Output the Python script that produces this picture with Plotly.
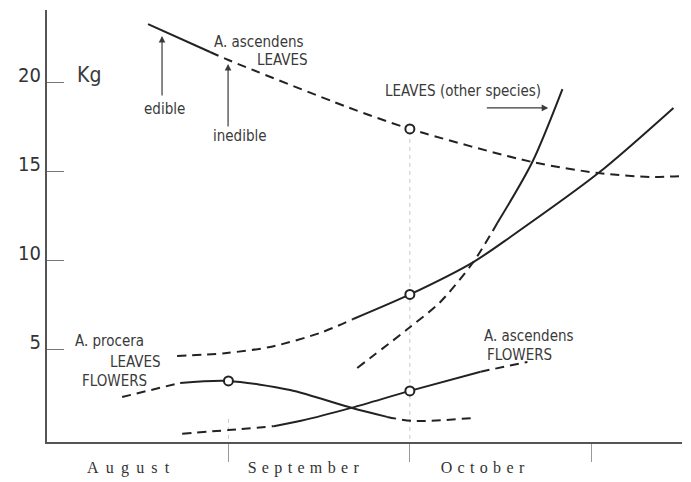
import plotly.graph_objects as go

# x is in months from 1 August (0 = Aug 1, 1 = Sep 1, 2 = Oct 1, 3 = Nov 1); y in Kg
asc_leaves_x = [0.557, 0.899, 1.0, 1.655, 2.0, 2.675, 3.039, 3.326, 3.508]
asc_leaves_y = [23.31, 21.74, 21.29, 18.65, 17.42, 15.56, 14.94, 14.72, 14.78]
asc_leaves_solid = (0, 2)  # edible part

pro_leaves_x = [0.717, 0.98, 1.23, 1.506, 1.688, 2.0, 2.35, 2.554, 3.039, 3.453]
pro_leaves_y = [4.66, 4.82, 5.17, 5.96, 6.74, 8.12, 9.94, 11.35, 14.94, 18.60]
pro_leaves_solid = (4, 10)

oth_leaves_x = [1.710, 2.002, 2.168, 2.350, 2.482, 2.675, 2.841]
oth_leaves_y = [3.99, 6.29, 7.70, 9.94, 12.13, 15.56, 19.66]
oth_leaves_solid = (4, 7)

pro_flowers_x = [0.414, 0.734, 0.998, 1.34, 1.682, 1.875, 2.02, 2.35]
pro_flowers_y = [2.36, 3.15, 3.26, 2.75, 1.74, 1.24, 1.01, 1.18]
pro_flowers_solid = (1, 6)

asc_flowers_x = [0.745, 1.0, 1.25, 1.40, 1.682, 2.0, 2.39, 2.648]
asc_flowers_y = [0.30, 0.50, 0.72, 1.02, 1.76, 2.70, 3.78, 4.33]
asc_flowers_solid = (2, 7)

circle_x = [2.0, 2.0, 1.0, 2.0]
circle_y = [17.42, 8.12, 3.26, 2.70]

month_pos = [0.447, 1.412, 2.40]
month_labels = ["A\u2005\u2009u\u2005\u2009g\u2005\u2009u\u2005\u2009s\u2005\u2009t",
                "S\u2004e\u2004p\u2004t\u2004e\u2004m\u2004b\u2004e\u2004r",
                "O\u2004c\u2004t\u2004o\u2004b\u2004e\u2004r"]
month_bounds = [1, 2, 3]
y_ticks = [5, 10, 15, 20]

guide_x = [1, 2]
guide_top = [1.3, 17.3]

LINE = "#222222"
TXT = "#3a3a3a"
SANS = "DejaVu Sans Condensed, Liberation Sans Narrow, Arial Narrow, sans-serif"
SERIF = "Liberation Serif, Times New Roman, serif"
DASH = "9px,6px"

fig = go.Figure()

curves = [
    (asc_leaves_x, asc_leaves_y, asc_leaves_solid),
    (pro_leaves_x, pro_leaves_y, pro_leaves_solid),
    (oth_leaves_x, oth_leaves_y, oth_leaves_solid),
    (pro_flowers_x, pro_flowers_y, pro_flowers_solid),
    (asc_flowers_x, asc_flowers_y, asc_flowers_solid),
]

for i, gx in enumerate(guide_x):
    fig.add_shape(type="line", x0=gx, x1=gx, y0=0, y1=guide_top[i], xref="x", yref="y",
                  line=dict(color="#c8c8c8", width=1, dash="4px,4px"), layer="below")

for cx, cy, (a, b) in curves:
    if a > 0:
        fig.add_trace(go.Scatter(x=cx[:a + 1], y=cy[:a + 1], mode="lines",
                                 line=dict(color=LINE, width=2, dash=DASH, shape="spline", smoothing=0.8),
                                 hoverinfo="skip", showlegend=False))
    if b < len(cx):
        fig.add_trace(go.Scatter(x=cx[b - 1:], y=cy[b - 1:], mode="lines",
                                 line=dict(color=LINE, width=2, dash=DASH, shape="spline", smoothing=0.8),
                                 hoverinfo="skip", showlegend=False))
    fig.add_trace(go.Scatter(x=cx[a:b], y=cy[a:b], mode="lines",
                             line=dict(color=LINE, width=2, shape="spline", smoothing=0.8),
                             hoverinfo="skip", showlegend=False))

fig.add_trace(go.Scatter(x=circle_x, y=circle_y, mode="markers",
                         marker=dict(size=9, color="white", line=dict(color=LINE, width=2)),
                         hoverinfo="skip", showlegend=False))

def label(x, y, text, xanchor="left", size=15):
    fig.add_annotation(x=x, y=y, text=text, showarrow=False, xanchor=xanchor, yanchor="middle",
                       font=dict(family=SANS, size=size, color=TXT))

label(0.154, 20.45, "Kg", size=21)
label(0.910, 22.3, "A. ascendens")
label(1.451, 21.3, "LEAVES", xanchor="right")
label(0.645, 18.54, "edible", xanchor="center")
label(1.065, 17.02, "inedible", xanchor="center")
label(1.853, 19.55, "LEAVES (other species)")
label(0.143, 5.51, "A. procera")
label(0.64, 4.33, "LEAVES", xanchor="right")
label(0.182, 3.26, "FLOWERS")
label(2.40, 5.79, "A. ascendens")
label(2.416, 4.72, "FLOWERS")

def arrow(x, y, ax, ay):
    fig.add_annotation(x=x, y=y, ax=ax, ay=ay, xref="x", yref="y", axref="x", ayref="y",
                       text="", showarrow=True, arrowhead=2, arrowsize=1.1, arrowwidth=1.2,
                       arrowcolor=TXT)

arrow(0.634, 22.64, 0.634, 19.21)
arrow(0.998, 21.07, 0.998, 17.47)
arrow(2.763, 18.6, 2.416, 18.6)

# the page adds an 8px body margin, so the margins are reduced by 8 at left/top
fig.update_layout(
    width=691, height=482,
    margin=dict(l=39, r=17, t=2, b=48),
    paper_bgcolor="white", plot_bgcolor="white",
    showlegend=False,
    xaxis=dict(range=[0, 3.5], showgrid=False, zeroline=False, showline=True, automargin=False,
               linecolor="#555555", linewidth=2,
               tickvals=month_pos, ticktext=month_labels, ticks="",
               tickfont=dict(family=SERIF, size=16, color="#333333"),
               ticklabelstandoff=10,
               minor=dict(tickvals=month_bounds, ticks="outside", ticklen=18,
                          tickcolor="#999999", tickwidth=1)),
    yaxis=dict(range=[-0.17, 24.1], showgrid=False, zeroline=False, showline=True, automargin=False,
               linecolor="#555555", linewidth=2,
               tickvals=y_ticks, ticktext=[str(v) for v in y_ticks],
               ticks="inside", ticklen=17, tickcolor="#777777", tickwidth=1.2,
               tickfont=dict(family=SANS, size=20, color="#333333"),
               ticklabelshift=-8),
)

fig.write_html("out.html")
